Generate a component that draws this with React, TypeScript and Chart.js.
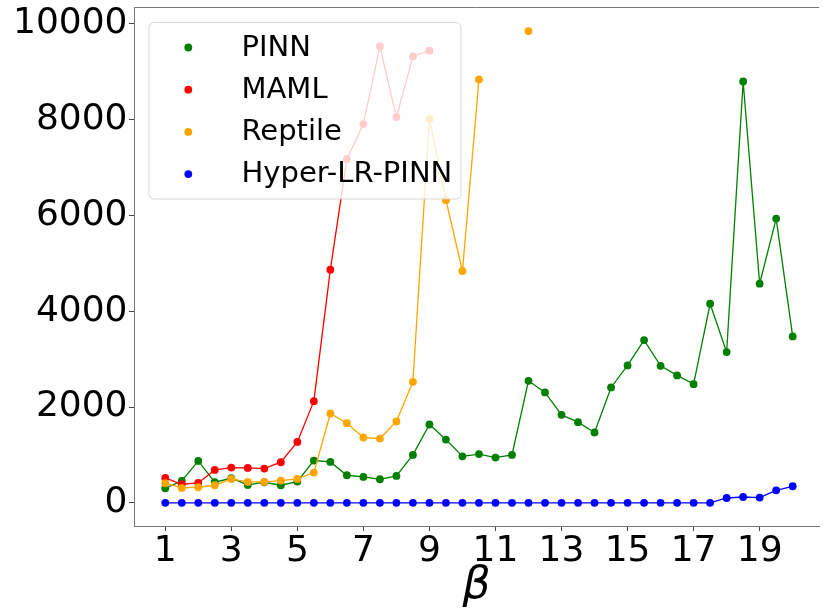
import { useEffect, useRef } from "react";
import { Chart, registerables } from "chart.js";

Chart.register(...registerables);

const betas: number[] = [
  1, 1.5, 2, 2.5, 3, 3.5, 4, 4.5, 5, 5.5, 6, 6.5, 7, 7.5, 8, 8.5, 9, 9.5, 10, 10.5,
  11, 11.5, 12, 12.5, 13, 13.5, 14, 14.5, 15, 15.5, 16, 16.5, 17, 17.5, 18, 18.5, 19, 19.5, 20,
];

const pinn: (number | null)[] = [
  303, 456, 874, 429, 512, 373, 429, 366, 443, 882, 854, 575, 540, 491, 561, 1000, 1635, 1321, 970, 1018,
  945, 1000, 2547, 2304, 1836, 1683, 1468, 2409, 2869, 3398, 2861, 2660, 2478, 4157, 3147, 8800, 4576, 5935, 3475,
];

const maml: (number | null)[] = [
  519, 387, 415, 686, 736, 728, 715, 847, 1272, 2123, 4868, 7176, 7909, 9532, 8055, 9323, 9442, null, null, null,
  null, null, null, null, null, null, null, null, null, null, null, null, null, null, null, null, null, null, null,
];

const reptile: (number | null)[] = [
  408, 310, 324, 366, 498, 435, 435, 464, 498, 631, 1865, 1662, 1363, 1342, 1698, 2526, 8020, 6320, 4841, 8842,
  null, null, 9853, null, null, null, null, null, null, null, null, null, null, null, null, null, null, null, null,
];

const hyper: (number | null)[] = [
  0, 0, 0, 0, 0, 0, 0, 0, 0, 0, 0, 0, 0, 0, 0, 0, 0, 0, 0, 0,
  0, 0, 0, 0, 0, 0, 0, 0, 0, 0, 0, 0, 0, 0, 100, 121, 109, 261, 345,
];

const seriesNames = ["PINN", "MAML", "Reptile", "Hyper-LR-PINN"];
const seriesColors = ["#008000", "#ff0000", "#ffa500", "#0000ff"];
const xTicks = [1, 3, 5, 7, 9, 11, 13, 15, 17, 19];
const yTicks = [0, 2000, 4000, 6000, 8000, 10000];

const toPoints = (vals: (number | null)[]) => betas.map((b, i) => ({ x: b, y: vals[i] }));

const legendPlugin = {
  id: "innerLegend",
  afterDatasetsDraw(chart: any) {
    const { ctx, chartArea } = chart;
    const left = chartArea.left + 15;
    const top = chartArea.top + 15.5;
    const w = 312;
    const h = 176.5;
    ctx.save();
    ctx.beginPath();
    ctx.roundRect(left, top, w, h, 5);
    ctx.fillStyle = "rgba(255,255,255,0.8)";
    ctx.fill();
    ctx.strokeStyle = "rgba(204,204,204,0.8)";
    ctx.lineWidth = 1;
    ctx.stroke();
    ctx.font = "29px 'DejaVu Sans'";
    ctx.textBaseline = "alphabetic";
    ctx.textAlign = "left";
    [0, 1, 2, 3].forEach((di, k) => {
      const ds = chart.data.datasets[di];
      const cy = top + 25 + k * 42.2;
      ctx.beginPath();
      ctx.arc(left + 39.3, cy, 3.9, 0, Math.PI * 2);
      ctx.fillStyle = ds.borderColor;
      ctx.fill();
      ctx.fillStyle = "#000";
      ctx.fillText(ds.label, left + 92.5, cy + 8.2);
    });
    ctx.restore();
  },
};

const topBorderPlugin = {
  id: "topBorder",
  afterDraw(chart: any) {
    const { ctx, chartArea } = chart;
    ctx.save();
    ctx.strokeStyle = "#777";
    ctx.lineWidth = 1;
    ctx.beginPath();
    ctx.moveTo(chartArea.left, chartArea.top + 0.5);
    ctx.lineTo(chartArea.right, chartArea.top + 0.5);
    ctx.stroke();
    ctx.restore();
  },
};

export default function App() {
  const ref = useRef<HTMLCanvasElement | null>(null);
  useEffect(() => {
    if (!ref.current) return;
    const all = [pinn, maml, reptile, hyper];
    const chart = new Chart(ref.current, {
      type: "line",
      data: {
        datasets: all.map((vals, i) => ({
          label: seriesNames[i],
          data: toPoints(vals),
          borderColor: seriesColors[i],
          backgroundColor: seriesColors[i],
          borderWidth: 1.3,
          pointRadius: 3.9,
          pointBorderWidth: 0,
          pointHoverRadius: 3.9,
          spanGaps: false,
          tension: 0,
          order: 4 - i,
        })),
      },
      options: {
        animation: false,
        responsive: false,
        maintainAspectRatio: false,
        events: [],
        layout: { padding: { top: 7, left: 0, right: 0, bottom: 0 } },
        plugins: {
          legend: { display: false },
          tooltip: { enabled: false },
          title: { display: false },
        },
        scales: {
          x: {
            type: "linear",
            min: 0.054,
            max: 20.8,
            afterBuildTicks: (scale: any) => {
              scale.ticks = xTicks.map((v) => ({ value: v }));
            },
            afterFit: (scale: any) => {
              scale.height = 87;
              scale.paddingLeft = 0;
              scale.paddingRight = 0;
            },
            grid: { drawOnChartArea: false, drawTicks: true, tickLength: 5, color: "#444" },
            border: { display: true, color: "#777", width: 1 },
            ticks: {
              autoSkip: false,
              maxRotation: 0,
              color: "#000",
              padding: -1,
              font: { family: "'DejaVu Sans'", size: 36 },
              callback: (v: any) => String(v),
            },
            title: {
              display: true,
              text: "β",
              color: "#000",
              padding: { top: -8, bottom: 0 },
              font: { family: "'DejaVu Sans'", style: "italic", size: 44 },
            },
          },
          y: {
            type: "linear",
            min: -485,
            max: 10355,
            afterBuildTicks: (scale: any) => {
              scale.ticks = yTicks.map((v) => ({ value: v }));
            },
            afterFit: (scale: any) => {
              scale.width = 134;
              scale.paddingTop = 0;
              scale.paddingBottom = 0;
            },
            grid: { drawOnChartArea: false, drawTicks: true, tickLength: 5, color: "#444" },
            border: { display: true, color: "#777", width: 1 },
            ticks: {
              color: "#000",
              padding: 1.5,
              font: { family: "'DejaVu Sans'", size: 36 },
              callback: (v: any) => String(v),
            },
          },
        },
      },
      plugins: [legendPlugin, topBorderPlugin],
    } as any);
    return () => chart.destroy();
  }, []);
  return (
    <div style={{ position: "absolute", left: 0, top: 0, width: 823, height: 613, background: "#fff" }}>
      <canvas ref={ref} width={823} height={613} style={{ width: 823, height: 613 }} />
    </div>
  );
}
